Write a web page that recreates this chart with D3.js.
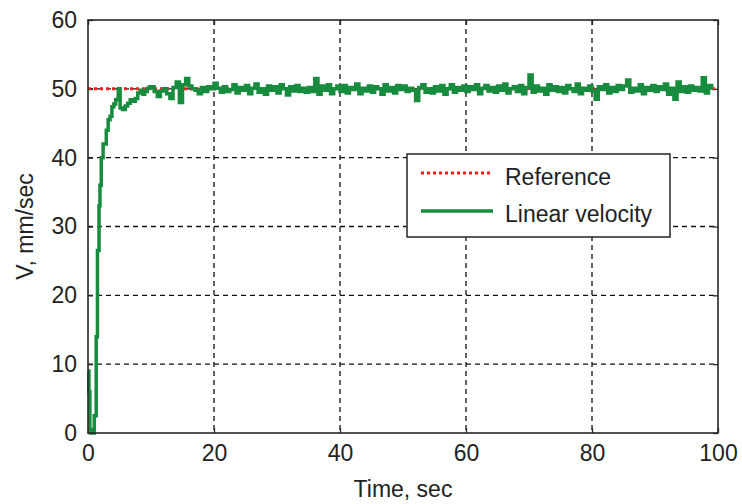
<!DOCTYPE html>
<html>
<head>
<meta charset="utf-8">
<script src="https://cdn.jsdelivr.net/npm/d3@7"></script>
<style>
  body { margin: 0; background: #fff; }
  text { font-family: "Liberation Sans", Arial, sans-serif; fill: #222; }
</style>
</head>
<body>
<div id="chart"></div>
<script>
// DATA ------------------------------------------------------------
var xTicks = [0, 20, 40, 60, 80, 100];
var yTicks = [0, 10, 20, 30, 40, 50, 60];
var refValue = 50;
var legendLabels = ["Reference", "Linear velocity"];

// start-up transient (sec, mm/sec)
var startTimes = [0, 0.15, 0.3, 0.5, 0.8, 1.0, 1.25, 1.3, 1.5, 1.75, 1.9, 2.1, 2.4, 2.9, 3.2, 3.5,
	3.8, 4.1, 4.4, 4.7, 4.8, 5.1, 5.5, 5.9, 6.3, 6.7, 7.1, 7.5, 7.9, 8.3, 8.7, 9.0, 9.4, 9.8];
var startValues = [9, 6, 0.5, 0, 0, 2.5, 2.5, 14, 26.5, 33, 36, 40, 42, 44, 45.5, 46,
	47.4, 47.8, 48.4, 48.5, 50, 47.2, 47, 47.5, 47.9, 48.4, 48.2, 48.6, 49.4, 49.8, 49.2, 49.6, 50.1, 50.3];

// steady part, one sample every 0.5 sec from 10 to 99 sec
var steadyValues = [
	50.3, 49.6, 48.9, 49.7, 50.0, 49.3, 48.6, 50.2, 51.0, 48.0,
	50.6, 51.5, 50.4, 50.0, 49.8, 49.3, 50.2, 49.6, 50.3, 50.0,
	50.8, 50.1, 49.5, 50.3, 49.6, 49.9, 50.6, 49.4, 50.2, 49.8,
	50.5, 49.3, 50.1, 50.7, 49.5, 50.0, 49.2, 50.4, 49.8, 50.3,
	49.4, 50.6, 50.0, 49.1, 50.3, 49.7, 50.5, 49.6, 50.1, 49.5,
	50.2, 49.6, 51.5, 49.2, 50.4, 49.8, 50.6, 49.3, 50.0, 50.4,
	49.6, 50.5, 49.4, 50.2, 49.9, 50.7, 49.3, 50.1, 49.7, 50.4,
	49.5, 50.3, 50.0, 49.2, 50.6, 49.7, 50.2, 49.4, 50.5, 49.9,
	50.4, 49.6, 50.1, 49.8, 48.3, 50.2, 50.6, 49.5, 50.0, 49.4,
	50.3, 49.7, 50.5, 49.2, 50.0, 50.6, 49.5, 50.2, 49.8, 50.4,
	49.6, 50.3, 49.9, 50.6, 49.3, 50.1, 50.5, 49.7, 50.2, 49.5,
	50.4, 49.8, 50.7, 49.4, 50.0, 50.3, 49.6, 50.5, 49.3, 50.2,
	52.0, 49.5, 50.4, 49.7, 50.1, 49.2, 50.6, 49.8, 50.3, 49.6,
	50.2, 49.4, 50.5, 50.0, 49.6, 50.7, 49.3, 50.1, 49.8, 50.4,
	49.7, 48.5, 50.3, 49.9, 50.6, 49.4, 50.2, 49.6, 50.5, 49.9,
	50.4, 51.3, 49.5, 50.1, 49.7, 50.6, 49.3, 50.2, 49.8, 50.5,
	49.6, 50.3, 49.9, 50.7, 49.2, 50.1, 48.5, 51.0, 49.6, 50.3,
	49.5, 50.4, 49.8, 50.2, 49.7, 51.6, 49.4, 50.5, 49.9
];
var steadyTimes = d3.range(steadyValues.length).map(function(i) { return 10 + i * 0.5; });

// SVG SETUP ------------------------------------------------------------
var svgWidth = 742, svgHeight = 504;
var margin = {top: 20, right: 24, bottom: 71, left: 88},
    width = svgWidth - margin.left - margin.right,
    height = svgHeight - margin.top - margin.bottom;

var colors = {
	'axis': '#262626',
	'grid': '#111',
	'ref': '#ff1a1a',
	'line': '#178c3e'
};

var svg = d3.select("#chart")
	.append("svg")
	.attr("width", svgWidth)
	.attr("height", svgHeight);

var g = svg.append("g")
	.attr("transform", "translate(" + margin.left + "," + margin.top + ")");

var x = d3.scaleLinear().domain([0, 100]).range([0, width]);
var y = d3.scaleLinear().domain([0, 60]).range([height, 0]);

// grid lines
g.append("g")
	.selectAll("line.vgrid")
	.data(xTicks.slice(1, -1))
	.enter().append("line")
	.attr("x1", function(d) { return x(d); })
	.attr("x2", function(d) { return x(d); })
	.attr("y1", 0).attr("y2", height)
	.style("stroke", colors.grid)
	.style("stroke-width", 1.3)
	.style("stroke-dasharray", "5,4");

g.append("g")
	.selectAll("line.hgrid")
	.data(yTicks.slice(1, -1))
	.enter().append("line")
	.attr("y1", function(d) { return y(d); })
	.attr("y2", function(d) { return y(d); })
	.attr("x1", 0).attr("x2", width)
	.style("stroke", colors.grid)
	.style("stroke-width", 1.3)
	.style("stroke-dasharray", "5,4");

// axes with inward ticks
var xAxis = d3.axisBottom(x).tickValues(xTicks).tickSizeInner(-5).tickSizeOuter(0).tickPadding(12);
var yAxis = d3.axisLeft(y).tickValues(yTicks).tickSizeInner(-5).tickSizeOuter(0).tickPadding(11);

var gx = g.append("g")
	.attr("transform", "translate(0," + height + ")")
	.call(xAxis);
var gy = g.append("g").call(yAxis);
var gxTop = g.append("g").call(d3.axisTop(x).tickValues(xTicks).tickSizeInner(-5).tickSizeOuter(0).tickFormat(""));
var gyRight = g.append("g")
	.attr("transform", "translate(" + width + ",0)")
	.call(d3.axisRight(y).tickValues(yTicks).tickSizeInner(-5).tickSizeOuter(0).tickFormat(""));

[gx, gy, gxTop, gyRight].forEach(function(a) {
	a.selectAll("path.domain").remove();
	a.selectAll(".tick line").style("stroke", colors.axis).style("stroke-width", 1.3);
	a.selectAll("text").style("font-size", "23px").style("fill", "#222");
});

// reference line
var line = d3.line()
	.x(function(d) { return x(d[0]); })
	.y(function(d) { return y(d[1]); });

g.append("path")
	.datum([[0, refValue], [100, refValue]])
	.attr("d", line)
	.style("fill", "none")
	.style("stroke", colors.ref)
	.style("stroke-width", 3)
	.style("stroke-dasharray", "3,3");

// velocity line (sample-and-hold look)
var stepLine = d3.line()
	.curve(d3.curveStepAfter)
	.x(function(d) { return x(d[0]); })
	.y(function(d) { return y(d[1]); });

var velocity = d3.zip(startTimes.concat(steadyTimes), startValues.concat(steadyValues));
g.append("path")
	.datum(velocity)
	.attr("d", stepLine)
	.style("fill", "none")
	.style("stroke", colors.line)
	.style("stroke-width", 3.5);

// box
g.append("rect")
	.attr("width", width)
	.attr("height", height)
	.style("fill", "none")
	.style("stroke", colors.axis)
	.style("stroke-width", 1.6);

// axis labels
svg.append("text")
	.attr("x", margin.left + width / 2)
	.attr("y", 497)
	.attr("text-anchor", "middle")
	.style("font-size", "23px")
	.text("Time, sec");

svg.append("text")
	.attr("transform", "translate(33," + (margin.top + height / 2) + ") rotate(-90)")
	.attr("text-anchor", "middle")
	.style("font-size", "23px")
	.text("V, mm/sec");

// legend
var legend = svg.append("g").attr("transform", "translate(407,154)");
legend.append("rect")
	.attr("width", 263)
	.attr("height", 83)
	.style("fill", "#fff")
	.style("stroke", colors.axis)
	.style("stroke-width", 1.5);

legend.append("line")
	.attr("x1", 14).attr("x2", 86).attr("y1", 19).attr("y2", 19)
	.style("stroke", colors.ref)
	.style("stroke-width", 3)
	.style("stroke-dasharray", "3,3");
legend.append("line")
	.attr("x1", 14).attr("x2", 86).attr("y1", 57).attr("y2", 57)
	.style("stroke", colors.line)
	.style("stroke-width", 3.5);

legend.selectAll("text.lbl")
	.data(legendLabels)
	.enter().append("text")
	.attr("x", 98)
	.attr("y", function(d, i) { return 31 + i * 37; })
	.style("font-size", "23px")
	.text(function(d) { return d; });
</script>
</body>
</html>
